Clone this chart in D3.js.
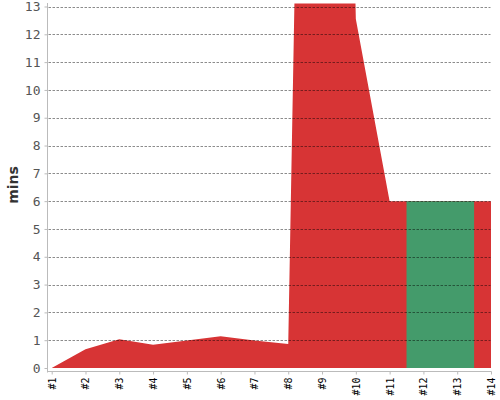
<!DOCTYPE html>
<html>
<head>
<meta charset="utf-8">
<script src="https://cdn.jsdelivr.net/npm/d3@7"></script>
<style>
  html, body { margin: 0; padding: 0; background: #fff; }
  svg { display: block; }
</style>
</head>
<body>
<svg id="chart" width="500" height="400"></svg>
<script>
// ---- data ----
const categories = ["#1","#2","#3","#4","#5","#6","#7","#8","#9","#10","#11","#12","#13","#14"];
const values = [0, 0.67, 1.03, 0.84, 0.99, 1.14, 0.99, 0.86, 68, 12.55, 6, 6, 6, 6];
const status = ["fail","fail","fail","fail","fail","fail","fail","fail","fail","fail","fail","pass","pass","fail"];
const yTicks = [0,1,2,3,4,5,6,7,8,9,10,11,12,13];
const yLabel = "mins";

// ---- layout ----
const svg = d3.select("#chart");
const axisX = 47.5, plotRight = 491.5, baseY = 368, topY = 6.5, xAxisY = 371.5;
const colors = { fail: "#d73435", pass: "#449b6b" };

const x = d3.scalePoint().domain(categories).range([51.7, 491]);
const y = d3.scaleLinear().domain([0, 13]).range([baseY, topY]);

const defs = svg.append("defs");
defs.append("clipPath").attr("id", "plotClip")
  .append("rect").attr("x", axisX).attr("y", 3.5)
  .attr("width", plotRight - axisX + 1).attr("height", baseY - 3.5);

const pts = categories.map((c, i) => ({ c, v: values[i], s: status[i] }));
const area = d3.area().x(d => x(d.c)).y0(y(0)).y1(d => y(d.v)).curve(d3.curveLinear);

defs.append("clipPath").attr("id", "areaClip")
  .append("path").attr("d", area(pts));

const plot = svg.append("g").attr("clip-path", "url(#plotClip)");
plot.append("path").attr("d", area(pts)).attr("fill", colors.fail);

// group consecutive "pass" points into runs, coloured midpoint to midpoint
const runs = [];
pts.forEach((d, i) => {
  if (d.s !== "pass") return;
  const last = runs[runs.length - 1];
  if (last && last.end === i - 1) last.end = i;
  else runs.push({ start: i, end: i });
});
const step = x.step();
const passG = plot.append("g").attr("clip-path", "url(#areaClip)");
passG.selectAll("rect").data(runs).join("rect")
  .attr("x", r => x(categories[r.start]) - step / 2)
  .attr("width", r => x(categories[r.end]) - x(categories[r.start]) + step)
  .attr("y", 0)
  .attr("height", baseY)
  .attr("fill", colors.pass);

// gridlines on top
svg.append("g").selectAll("line").data(yTicks.filter(t => t > 0)).join("line")
  .attr("x1", axisX + 1).attr("x2", plotRight - 1)
  .attr("y1", d => Math.round(y(d)) + 0.5).attr("y2", d => Math.round(y(d)) + 0.5)
  .attr("stroke", "rgba(0,0,0,0.45)")
  .attr("stroke-width", 1)
  .attr("stroke-dasharray", "2.5,1.5");

// y axis
const yAxis = d3.axisLeft(y).tickValues(yTicks).tickSize(3).tickPadding(4).tickFormat(d3.format("d"));
const gy = svg.append("g").attr("transform", `translate(${axisX},0)`).call(yAxis);
gy.select(".domain").attr("d", `M0,3V${xAxisY + 1}`).attr("stroke", "#bbb");
gy.selectAll(".tick line").attr("stroke", "#bbb");
gy.selectAll(".tick text").attr("fill", "#555")
  .style("font-family", "'DejaVu Sans Mono', monospace").style("font-size", "13px");

// x axis
const xAxis = d3.axisBottom(x).tickSize(3).tickPadding(2);
const gx = svg.append("g").attr("transform", `translate(0,${xAxisY})`).call(xAxis);
gx.select(".domain").attr("d", `M${axisX},0H${plotRight}`).attr("stroke", "#bbb");
gx.selectAll(".tick line").attr("stroke", "#bbb");
gx.selectAll(".tick text")
  .attr("transform", "rotate(-90)")
  .attr("x", -6).attr("y", 0).attr("dy", "0.35em")
  .attr("text-anchor", "end")
  .attr("fill", "#000")
  .style("font-family", "'DejaVu Sans Mono', monospace").style("font-size", "10px");

// y label
svg.append("text")
  .attr("transform", "translate(18,185) rotate(-90)")
  .attr("text-anchor", "middle")
  .attr("fill", "#333")
  .style("font-family", "'DejaVu Sans', sans-serif")
  .style("font-weight", "bold")
  .style("font-size", "14px")
  .text(yLabel);
</script>
</body>
</html>
